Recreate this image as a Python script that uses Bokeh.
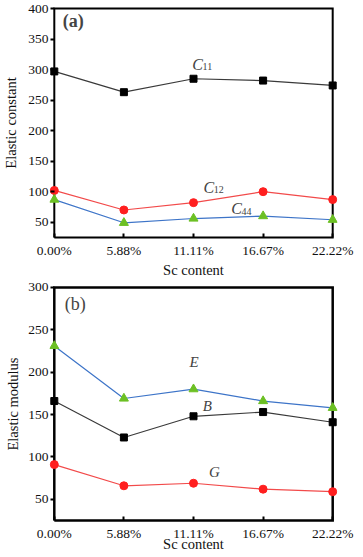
from bokeh.plotting import figure
from bokeh.layouts import column
from bokeh.models import Range1d, FixedTicker, Label
from bokeh.embed import file_html
from bokeh.resources import INLINE

# ---- data ----
sc_content = ["0.00%", "5.88%", "11.11%", "16.67%", "22.22%"]
c11 = [297, 263, 285, 282, 274]
c12 = [102, 70, 82, 100, 87]
c44 = [87, 49, 56, 60, 54]
e_mod = [231, 169, 180, 166, 158]
b_mod = [166, 123, 148, 153, 141]
g_mod = [91, 66, 69, 62, 59]
yticks_a = [50, 100, 150, 200, 250, 300, 350, 400]
yticks_b = [50, 100, 150, 200, 250, 300]

FONT = "Liberation Serif"
BLACK_LINE = "#3a3a3a"
RED = "#ff1f1f"
RED_LINE = "#f24a4a"
BLUE_LINE = "#3d74c8"
GREEN = "#6cc024"

xs = list(range(len(sc_content)))
XPAD = 0.069  # small padding so the axes box and end markers are not clipped


def style(p, yticks, ylo, yhi, xlabel, ylabel, box_width):
    p.outline_line_color = None
    p.xgrid.visible = False
    p.ygrid.visible = False
    p.background_fill_color = "white"
    p.border_fill_color = "white"
    p.xaxis.ticker = FixedTicker(ticks=xs)
    p.xaxis.major_label_overrides = {i: s for i, s in enumerate(sc_content)}
    p.yaxis.ticker = FixedTicker(ticks=yticks)
    for ax in (p.xaxis[0], p.yaxis[0]):
        ax.axis_line_color = None
        ax.major_tick_line_color = "black"
        ax.major_tick_line_width = 2
        ax.minor_tick_line_color = None
        ax.major_label_text_font = FONT
        ax.major_label_text_font_size = "13.5px"
        ax.major_label_text_color = "#111111"
        ax.axis_label_text_font = FONT
        ax.axis_label_text_font_size = "14.5px"
        ax.axis_label_text_font_style = "normal"
        ax.axis_label_text_color = "#111111"
    p.xaxis.major_tick_in = 7
    p.xaxis.major_tick_out = -3
    p.yaxis.major_tick_in = 5
    p.yaxis.major_tick_out = -1
    p.xaxis.axis_label = xlabel
    p.yaxis.axis_label = ylabel
    p.yaxis.major_label_standoff = 1
    # axes box drawn at the data limits (inside the slightly padded frame)
    p.multi_line([[xs[0], xs[-1], xs[-1], xs[0], xs[0]]], [[ylo, ylo, yhi, yhi, ylo]],
                 line_color="black", line_width=box_width, line_join="miter")


def series(p, ys, line_color, marker, color, size):
    p.line(xs, ys, line_color=line_color, line_width=1.2)
    p.scatter(xs, ys, marker=marker, size=size, fill_color=color, line_color=color)


# ---- panel (a) ----
ya_lo, ya_hi, ya_pad = 25, 400, 5
pa = figure(width=355, height=280, output_backend="svg", toolbar_location=None,
            x_range=Range1d(xs[0] - XPAD, xs[-1] + XPAD),
            y_range=Range1d(ya_lo - ya_pad, ya_hi + ya_pad),
            min_border_left=40, min_border_right=16, min_border_top=5, min_border_bottom=40)
style(pa, yticks_a, ya_lo, ya_hi, "Sc content", "Elastic constant", 2)
pa.xaxis.major_label_standoff = 2
pa.xaxis.axis_label_standoff = 1
pa.yaxis.axis_label_standoff = 6
series(pa, c11, BLACK_LINE, "square", "black", 7)
series(pa, c12, RED_LINE, "circle", RED, 8)
series(pa, c44, BLUE_LINE, "triangle", GREEN, 9)

pa.add_layout(Label(x=0.12, y=379, text="(a)", text_font=FONT, text_font_size="18px",
                    text_font_style="bold", text_baseline="middle", text_align="left"))


def sub_label(p, x, y, main, sub, dx, dy):
    p.add_layout(Label(x=x, y=y, text=main, text_font=FONT, text_font_size="16px",
                       text_font_style="italic", text_baseline="middle", text_align="center"))
    p.add_layout(Label(x=x + dx, y=y - dy, text=sub, text_font=FONT, text_font_size="10px",
                       text_baseline="middle", text_align="left"))


sub_label(pa, 2.06, 309, "C", "11", 0.07, 4)
sub_label(pa, 2.22, 107, "C", "12", 0.07, 4)
sub_label(pa, 2.62, 72, "C", "44", 0.07, 4)

# ---- panel (b) ----
yb_lo, yb_hi, yb_pad = 25, 300, 3.5
pb = figure(width=355, height=276, output_backend="svg", toolbar_location=None,
            x_range=Range1d(xs[0] - XPAD, xs[-1] + XPAD),
            y_range=Range1d(yb_lo - yb_pad, yb_hi + yb_pad),
            min_border_left=35, min_border_right=18, min_border_top=4, min_border_bottom=33)
style(pb, yticks_b, yb_lo, yb_hi, "Sc content", "Elastic modulus", 2.5)
pb.xaxis.major_label_standoff = 2
pb.xaxis.axis_label_standoff = -8
pb.yaxis.axis_label_standoff = 4
series(pb, e_mod, BLUE_LINE, "triangle", GREEN, 9)
series(pb, b_mod, BLACK_LINE, "square", "black", 7)
series(pb, g_mod, RED_LINE, "circle", RED, 8)

pb.add_layout(Label(x=0.15, y=281, text="(b)", text_font=FONT, text_font_size="18px",
                    text_baseline="middle", text_align="left"))
for x, y, t in [(2.01, 212, "E"), (2.2, 160, "B"), (2.3, 82, "G")]:
    pb.add_layout(Label(x=x, y=y, text=t, text_font=FONT, text_font_size="15px",
                        text_font_style="italic", text_baseline="middle", text_align="center"))

layout = column(pa, pb, spacing=0)
open("out.html", "w").write(file_html(layout, INLINE))
